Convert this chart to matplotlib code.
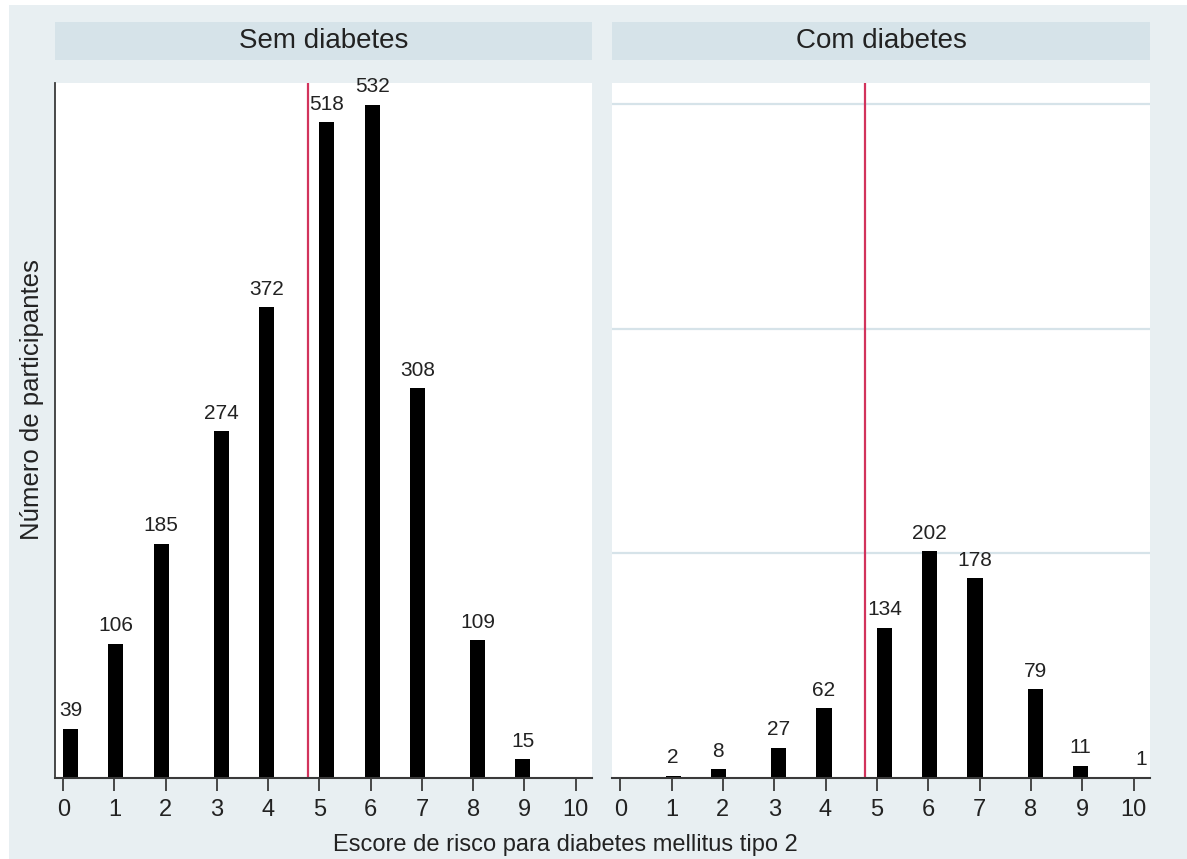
import numpy as np
import matplotlib.pyplot as plt
from matplotlib.patches import Rectangle

plt.rcParams['font.family'] = ['Liberation Sans', 'DejaVu Sans']

# escore de risco (0-10) e número de participantes por grupo
scores = np.arange(0, 11)
sem_diabetes = [39, 106, 185, 274, 372, 518, 532, 308, 109, 15, 0]
com_diabetes = [0, 2, 8, 27, 62, 134, 202, 178, 79, 11, 1]
panel_titles = ['Sem diabetes', 'Com diabetes']
cutoff = 4.77

# histogram bins as Stata drew them: width 10/34, starting at 0
bin_w = 1 / 3.4
bin_left = np.floor(scores * 3.4 + 1e-9) * bin_w

BG = '#e8eff2'
STRIP = '#d6e3e9'
GRID = '#d6e3e9'
AXIS = '#3a3a3a'
RED = '#d2335c'

W, H = 1187, 859
fig = plt.figure(figsize=(W / 100, H / 100), dpi=100, facecolor='white')
fig.patches.append(Rectangle((9 / W, 0), 1, 1 - 5 / H, transform=fig.transFigure,
                             facecolor=BG, edgecolor='none', zorder=-10))

panels = [
    dict(x0=55, x1=592, counts=sem_diabetes, ymax=549, grid=False, yspine=True),
    dict(x0=612, x1=1150, counts=com_diabetes, ymax=619, grid=True, yspine=False),
]
y_bot, y_top = 778, 83

for p, title in zip(panels, panel_titles):
    ax = fig.add_axes([p['x0'] / W, 1 - y_bot / H, (p['x1'] - p['x0']) / W, (y_bot - y_top) / H])
    ax.set_facecolor('white')
    counts = np.array(p['counts'])
    mask = counts > 0
    ax.bar(bin_left[mask], counts[mask], width=bin_w, align='edge', color='black',
           edgecolor='none', zorder=3)
    for xl, c in zip(bin_left[mask], counts[mask]):
        ax.annotate(str(c), (xl + bin_w / 2, c), xytext=(0, 6), textcoords='offset points',
                    ha='center', va='bottom', fontsize=15, color='#222222', zorder=4)
    ax.axvline(cutoff, color=RED, lw=1.6, zorder=2)
    ax.set_xlim(-0.16, 10.32)
    ax.set_ylim(0, p['ymax'])
    ax.set_xticks(range(0, 11))
    ax.tick_params(axis='x', length=9, width=1.3, color=AXIS, labelsize=17,
                   labelcolor='#222222', pad=6)
    ax.set_yticks([200, 400, 600] if p['grid'] else [])
    ax.tick_params(axis='y', length=0, labelleft=False)
    if p['grid']:
        ax.yaxis.grid(True, color=GRID, lw=1.6)
    for side in ['top', 'right']:
        ax.spines[side].set_visible(False)
    ax.spines['left'].set_visible(p['yspine'])
    ax.spines['left'].set_color(AXIS)
    ax.spines['left'].set_linewidth(1.3)
    ax.spines['bottom'].set_color(AXIS)
    ax.spines['bottom'].set_linewidth(1.5)
    ax.spines['bottom'].set_zorder(5)

    # faixa com o título do painel
    fig.patches.append(Rectangle((p['x0'] / W, 1 - 60 / H), (p['x1'] - p['x0']) / W, 38 / H,
                                 transform=fig.transFigure, facecolor=STRIP, edgecolor='none'))
    fig.text((p['x0'] + p['x1']) / 2 / W, 1 - 41 / H, title, ha='center', va='center',
             fontsize=20, color='#222222')

fig.text(565 / W, 1 - 845 / H, 'Escore de risco para diabetes mellitus tipo 2',
         ha='center', va='center', fontsize=17, color='#222222')
fig.text(32 / W, 1 - 400 / H, 'Número de participantes', ha='center', va='center',
         rotation=90, fontsize=18.5, color='#222222')

fig.savefig('out.png', dpi=100, facecolor=fig.get_facecolor())
